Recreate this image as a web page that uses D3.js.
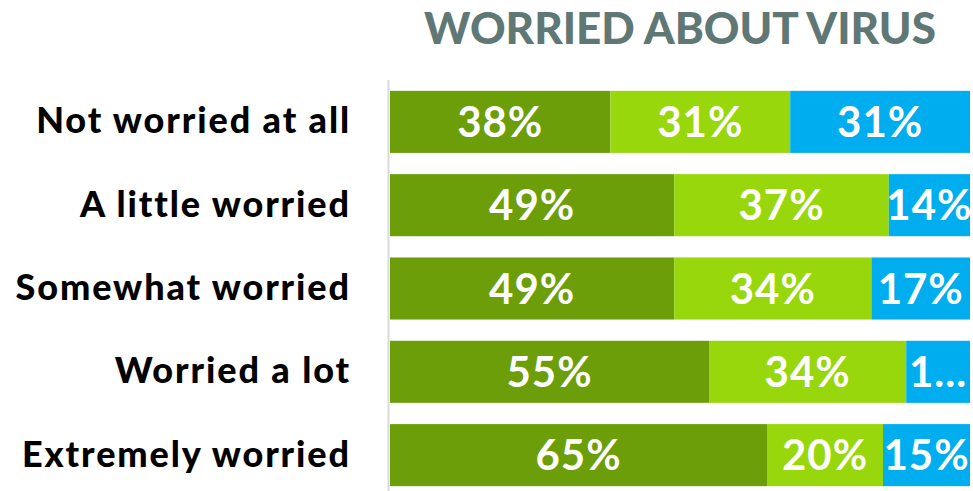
<!DOCTYPE html>
<html>
<head>
<meta charset="utf-8">
<script src="https://cdn.jsdelivr.net/npm/d3@7"></script>
<style>
  body { margin: 0; background: #fff; }
  svg text { font-family: Lato, "Open Sans", sans-serif; }
</style>
</head>
<body>
<svg id="chart" width="973" height="491"></svg>
<script>
// categories, top to bottom
var categories = ["Not worried at all", "A little worried", "Somewhat worried", "Worried a lot", "Extremely worried"];
// the three answer groups, in stack order
var seriesKeys = ["a", "b", "c"];
var seriesA = [38, 49, 49, 55, 65];
var seriesB = [31, 37, 34, 34, 20];
var seriesC = [31, 14, 17, 11, 15];
var colors = ["#6c9e0a", "#97d70c", "#00aeef"];
var title = "WORRIED ABOUT VIRUS";

var rows = categories.map(function (c, i) {
    return { cat: c, a: seriesA[i], b: seriesB[i], c: seriesC[i] };
});

var svg = d3.select("#chart");

var x = d3.scaleLinear().domain([0, 100]).range([390, 970]);
var y = d3.scaleBand().domain(categories).range([80, 497]).paddingInner(0.255).paddingOuter(0.13);
var color = d3.scaleOrdinal().domain(seriesKeys).range(colors);

var stacked = d3.stack().keys(seriesKeys)(rows);

// title
svg.append("text")
    .attr("x", 680)
    .attr("y", 44)
    .attr("text-anchor", "middle")
    .attr("fill", "#5f7875")
    .style("font-size", "44px")
    .style("font-weight", 900)
    .text(title);

// bars
var layers = svg.append("g").selectAll("g")
    .data(stacked)
    .join("g")
    .attr("fill", function (d) { return color(d.key); });

layers.selectAll("rect")
    .data(function (d) { return d; })
    .join("rect")
    .attr("x", function (d) { return x(d[0]); })
    .attr("width", function (d) { return x(d[1]) - x(d[0]); })
    .attr("y", function (d) { return y(d.data.cat); })
    .attr("height", y.bandwidth());

// value labels, truncated when they really don't fit
layers.selectAll("text")
    .data(function (d) { return d; })
    .join("text")
    .attr("x", function (d) { return (x(d[0]) + x(d[1])) / 2; })
    .attr("y", function (d) { return y(d.data.cat) + y.bandwidth() / 2; })
    .attr("dy", "0.36em")
    .attr("text-anchor", "middle")
    .attr("fill", "#fff")
    .style("font-size", "42px")
    .style("font-weight", 700)
    .style("letter-spacing", "1px")
    .text(function (d) { return (d[1] - d[0]) + "%"; })
    .each(function (d) {
        var el = d3.select(this),
            room = x(d[1]) - x(d[0]) + 8,
            full = el.text();
        if (this.getComputedTextLength() <= room) return;
        for (var n = full.length - 1; n > 0; n--) {
            el.text(full.slice(0, n) + "...");
            if (this.getComputedTextLength() <= room) break;
        }
    });

// category axis
var yAxis = d3.axisLeft(y).tickSize(0).tickPadding(38);
svg.append("g")
    .attr("transform", "translate(389,0)")
    .call(yAxis)
    .call(function (g) { g.select(".domain").remove(); })
    .selectAll("text")
    .attr("fill", "#000")
    .style("font-family", "Lato, sans-serif")
    .style("font-size", "36px")
    .style("font-weight", 900)
    .style("letter-spacing", "1.9px");

// vertical guide line
svg.append("line")
    .attr("x1", 388.5).attr("x2", 388.5)
    .attr("y1", 80).attr("y2", 491)
    .attr("stroke", "#d9d9d9")
    .attr("stroke-width", 2);
</script>
</body>
</html>
